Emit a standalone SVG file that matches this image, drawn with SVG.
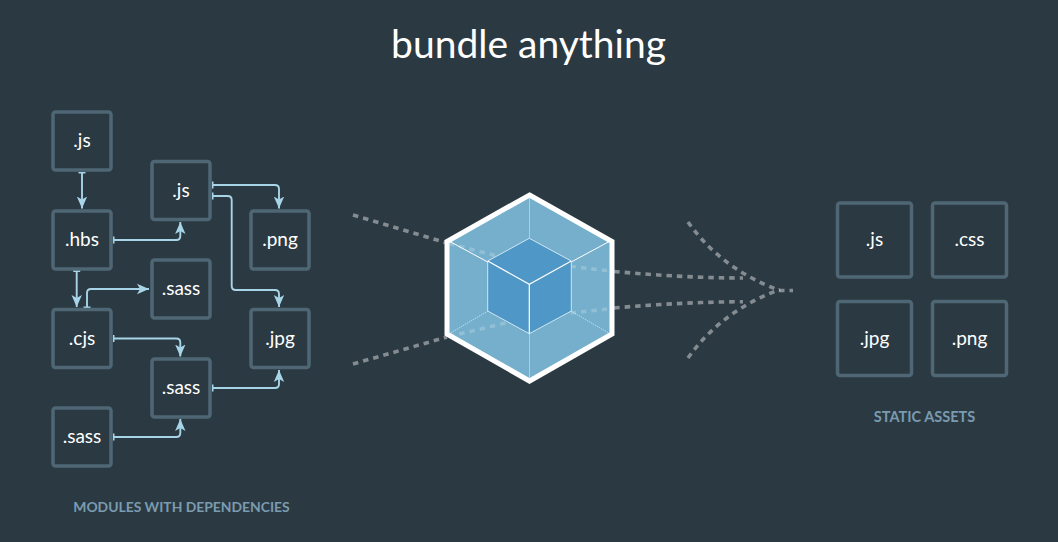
<svg xmlns="http://www.w3.org/2000/svg" width="1058" height="542" viewBox="0 0 1058 542">
<style>
text{font-family:"Lato","Noto Sans",sans-serif;text-anchor:middle;fill:#fff}
.lab{font-size:19px}
.cap{font-size:13.900px;font-weight:700;fill:#7a9bb0}
.box rect{fill:#2b3a42;stroke:#4f6774;stroke-width:3.500}
.c{fill:none;stroke:#a7d4e6;stroke-width:1.900;marker-start:url(#bar);marker-end:url(#arr)}
.d{fill:none;stroke:#fff;stroke-opacity:.42;stroke-width:3.600;stroke-dasharray:5.500 5}
.i{fill:none;stroke:#fff;stroke-opacity:.2;stroke-width:3.600;stroke-dasharray:5.500 5}
</style>
<defs>
<marker id="arr" markerUnits="userSpaceOnUse" markerWidth="14" markerHeight="14" refX="12" refY="6" orient="auto"><path d="M0 .800L12 6L0 11.200L3 6Z" fill="#a7d4e6"/></marker>
<marker id="bar" markerUnits="userSpaceOnUse" markerWidth="6" markerHeight="10" refX="1" refY="5" orient="auto"><path d="M1 1.500V8.500" stroke="#a7d4e6" stroke-width="2" fill="none"/></marker>
</defs>
<rect width="1058" height="542" fill="#2b3a42"/>
<text id="title" x="528.500" y="58" style="font-size:39px">bundle anything</text>
<g id="connectors">
<path class="c" d="M82 172.500V208.500"/>
<path class="c" d="M113.500 240H176.300Q180.300 240 180.300 236V222"/>
<path class="c" d="M212.500 185H275Q279 185 279 189V208.500"/>
<path class="c" d="M212.500 196H227.700Q231.700 196 231.700 200V286Q231.700 290 235.700 290H275Q279 290 279 294V307"/>
<path class="c" d="M76.700 271V307"/>
<path class="c" d="M87 307.500V293Q87 289 91 289H149"/>
<path class="c" d="M113.500 338.500H176.300Q180.300 338.500 180.300 342.500V356.500"/>
<path class="c" d="M212.500 388H275Q279 388 279 384V370"/>
<path class="c" d="M113.500 437H176.300Q180.300 437 180.300 433V419"/>
</g>
<g id="n1" class="box"><rect x="53" y="112" width="58" height="58" rx="2.500"/><text class="lab" x="82" y="147">.js</text></g>
<g id="n2" class="box"><rect x="152" y="161.500" width="58" height="58" rx="2.500"/><text class="lab" x="181" y="197">.js</text></g>
<g id="n3" class="box"><rect x="53" y="211" width="58" height="58" rx="2.500"/><text class="lab" x="82" y="246">.hbs</text></g>
<g id="n4" class="box"><rect x="251" y="211" width="58" height="58" rx="2.500"/><text class="lab" x="280" y="246">.png</text></g>
<g id="n5" class="box"><rect x="152" y="260" width="58" height="58" rx="2.500"/><text class="lab" x="181" y="295">.sass</text></g>
<g id="n6" class="box"><rect x="53" y="309.500" width="58" height="58" rx="2.500"/><text class="lab" x="82" y="345">.cjs</text></g>
<g id="n7" class="box"><rect x="251" y="309.500" width="58" height="58" rx="2.500"/><text class="lab" x="280" y="345">.jpg</text></g>
<g id="n8" class="box"><rect x="152" y="359" width="58" height="58" rx="2.500"/><text class="lab" x="181" y="394">.sass</text></g>
<g id="n9" class="box"><rect x="53" y="408" width="58" height="58" rx="2.500"/><text class="lab" x="82" y="443">.sass</text></g>
<text class="cap" x="181.500" y="511.500">MODULES WITH DEPENDENCIES</text>
<g id="webpack">
<path d="M529.500 195L612 241.500V334L529.500 381L447 334V241.500Z" fill="#75afcc"/>
<path class="d" d="M353 215L447 243"/>
<path class="i" d="M449 243.500L505 258"/>
<path class="d" d="M353 364L447 337"/>
<path class="i" d="M449 336.500L510 322"/>
<path class="i" d="M560 265C580 267.500 595 269.500 612 271"/>
<path class="d" d="M614 271.500C660 275.500 700 278 743 278"/>
<path class="i" d="M560 314C580 312 595 310.500 612 308.500"/>
<path class="d" d="M614 308C660 304 700 302 743 301.700"/>
<g fill="none" stroke="#fff">
<path d="M529.500 195V238M529.500 334V381" stroke-opacity=".5" stroke-width=".8"/>
<path d="M447 335L488 311M612 335L571 311" stroke-opacity=".5" stroke-width="1" stroke-dasharray="1.500 .8"/>
<path d="M447 240L529.500 284.500L612 240" stroke-width="1"/>
</g>
<path d="M529.300 238.300L571.300 261V311L529.300 333.700L487.700 311V261Z" fill="#4f97c6" stroke="#cfe6f2" stroke-width="1"/>
<path d="M487.700 261L529.300 284.300L571.300 261M529.300 284.300V333.700" fill="none" stroke="#fff" stroke-width="1.200"/>
<path d="M529.500 195L612 241.500V334L529.500 381L447 334V241.500Z" fill="none" stroke="#fff" stroke-width="5"/>
</g>
<g id="out">
<path class="d" d="M688 222C712 256 745 278 780 290.500H793"/>
<path class="d" d="M688 358C712 324 745 302 780 289.500"/>
</g>
<g id="a1" class="box"><rect x="837.500" y="203" width="74" height="74" rx="2.500"/><text class="lab" x="874.500" y="246">.js</text></g>
<g id="a2" class="box"><rect x="932.500" y="203" width="74" height="74" rx="2.500"/><text class="lab" x="969.500" y="246">.css</text></g>
<g id="a3" class="box"><rect x="837.500" y="301.500" width="74" height="74" rx="2.500"/><text class="lab" x="874.500" y="345">.jpg</text></g>
<g id="a4" class="box"><rect x="932.500" y="301.500" width="74" height="74" rx="2.500"/><text class="lab" x="969.500" y="345">.png</text></g>
<text class="cap" x="924.500" y="421.500" style="font-size:14.500px">STATIC ASSETS</text>
</svg>
